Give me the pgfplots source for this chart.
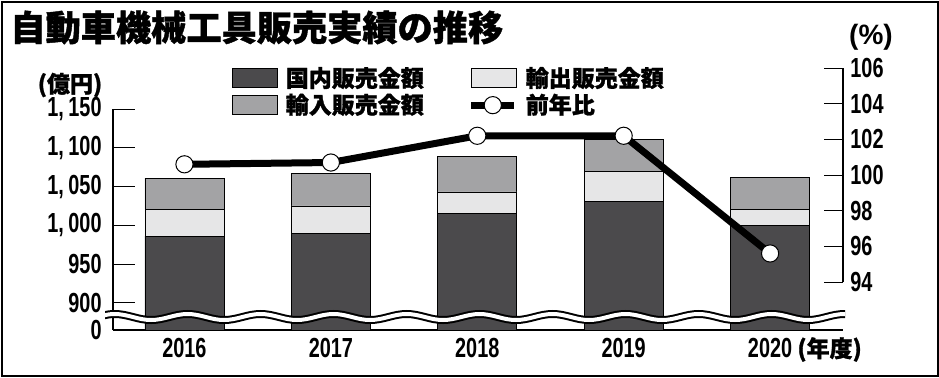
\documentclass[border=0pt]{standalone}
\usepackage{pgfplots}
\pgfplotsset{compat=1.18}
\usepackage{fontspec}
\usetikzlibrary{decorations.pathmorphing}
\setmainfont{Liberation Sans}
\newfontfamily\cjk{Noto Sans CJK JP}[BoldFeatures={FakeBold=1.2}]
\newfontfamily\numf{Liberation Sans}[FakeStretch=0.72]
\definecolor{dom}{HTML}{4B4A4C}
\definecolor{exq}{HTML}{E6E6E7}
\definecolor{imp}{HTML}{A3A3A5}
\newcommand\nf{\numf\bfseries\fontsize{13.8}{14}\selectfont}
\newcommand\jf[1]{\cjk\bfseries\fontsize{#1}{#1}\selectfont}
\pgfplotsset{boxlegend/.style={legend image code/.code={\draw[##1] (0pt,-4.75pt) rectangle (22.5pt,4.75pt);}},
  linelegend/.style={legend image code/.code={
  \draw[black,line width=3.5pt] (0pt,0pt) -- (21.5pt,0pt);
  \draw[black,fill=white,line width=0.5pt] (10.75pt,0pt) circle (4.3pt);}}}
\begin{document}
\begin{tikzpicture}
\useasboundingbox (0pt,0pt) rectangle (469.5pt,188.5pt);
\draw[line width=1pt] (0.75pt,0.75pt) rectangle (468.75pt,187.75pt);
\node[anchor=west,inner sep=0pt] at (5pt,174.75pt) {\jf{17.6}自動車機械工具販売実績の推移};
\begin{axis}[
  at={(56.5pt,23.5pt)}, anchor=south west,
  scale only axis, width=365pt, height=110.5pt,
  xmin=-0.488, xmax=4.498, ymin=865, ymax=1150,
  axis x line*=bottom, axis y line*=left,
  axis line style={line width=0.6pt},
  ybar stacked, bar width=0.54,
  xtick={0,1,2,3,4}, xticklabels={2016,2017,2018,2019,2020},
  xtick style={draw=none},
  xticklabel style={font=\nf, inner sep=0pt, yshift=-4pt},
  ytick={900,950,1000,1050,1100,1150},
  yticklabels={900,950,{1,\,000},{1,\,050},{1,\,100},{1,\,150}},
  extra y ticks={865}, extra y tick labels={0},
  extra y tick style={major tick length=0pt},
  tick align=inside, major tick length=11pt,
  ytick style={line width=0.5pt, black},
  yticklabel style={font=\nf, inner sep=0pt, xshift=-5.5pt},
  legend columns=2, legend cell align=left,
  legend style={at={(0.163,1.19)}, anchor=north west, draw=none, fill=none,
    inner sep=0pt, outer sep=0pt, row sep=2pt,
    nodes={inner sep=0pt, font=\jf{11.5}},
    /tikz/every odd column/.append style={column sep=4pt},
    /tikz/every even column/.append style={column sep=22pt}},
]
\addplot[fill=dom, draw=black, line width=0.4pt, boxlegend]
  coordinates {(0,986) (1,990) (2,1015) (3,1031) (4,1000)};
\addlegendentry{国内販売金額}
\addplot[fill=exq, draw=black, line width=0.4pt, boxlegend]
  coordinates {(0,35) (1,35) (2,28) (3,38) (4,20)};
\addlegendentry{輸出販売金額}
\addplot[fill=imp, draw=black, line width=0.4pt, boxlegend]
  coordinates {(0,40) (1,42) (2,46) (3,42) (4,42)};
\addlegendentry{輸入販売金額}
\addlegendimage{linelegend}
\addlegendentry{前年比}
\end{axis}
\begin{axis}[
  at={(56.5pt,47.5pt)}, anchor=south west,
  scale only axis, width=365pt, height=107pt,
  xmin=-0.488, xmax=4.498, ymin=94, ymax=106,
  axis y line*=right, axis x line=none,
  axis line style={line width=0.6pt},
  ytick={94,96,98,100,102,104,106},
  yticklabels={94,96,98,100,102,104,106},
  tick align=inside, major tick length=9.5pt,
  ytick style={line width=0.5pt, black},
  yticklabel style={font=\nf, inner sep=0pt, xshift=3.5pt, anchor=west},
  clip=false,
]
\addplot[black, line width=3.5pt, mark=*, mark size=4.3pt,
  mark options={fill=white, draw=black, line width=0.5pt}]
  coordinates {(0,100.6) (1,100.7) (2,102.2) (3,102.2) (4,95.6)};
\end{axis}
\begin{scope}
\clip (52.5pt,20pt) rectangle (422.5pt,40pt);
\draw[line width=4pt, black, decorate, decoration={snake, amplitude=1.5pt, segment length=36.5pt}] (45.875pt,30pt) -- (435pt,30pt);
\draw[line width=2pt, white, decorate, decoration={snake, amplitude=1.5pt, segment length=36.5pt}] (45.875pt,30pt) -- (435pt,30pt);
\end{scope}
\node[inner sep=0pt] at (35pt,146pt) {\jf{11.5}(億円)};
\node[inner sep=0pt] at (435.5pt,170pt) {\bfseries\fontsize{14}{14}\selectfont(\%)};
\node[anchor=base west, inner sep=0pt] at (398.5pt,10pt) {\jf{11.5}(年度)};
\end{tikzpicture}
\end{document}
